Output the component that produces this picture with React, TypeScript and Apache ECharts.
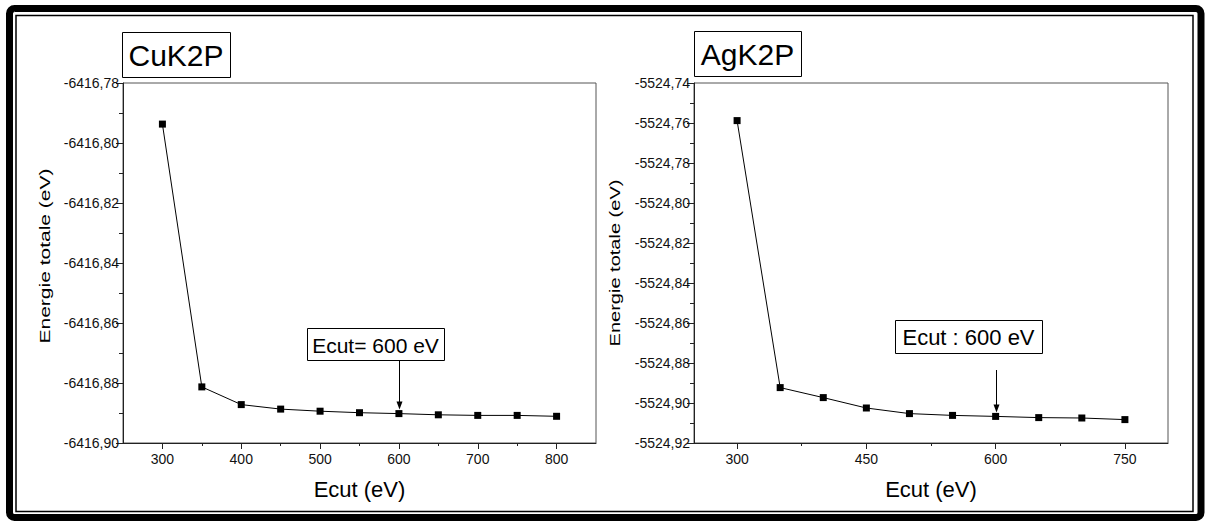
import React, { useEffect, useRef } from "react";
import * as echarts from "echarts";

// ---- Data ----
const cuEcut = [300, 350, 400, 450, 500, 550, 600, 650, 700, 750, 800];
const cuEnergy = [
  -6416.7937, -6416.8813, -6416.8872, -6416.8887, -6416.8894, -6416.8899,
  -6416.8902, -6416.8906, -6416.8908, -6416.8908, -6416.8911,
];
const agEcut = [300, 350, 400, 450, 500, 550, 600, 650, 700, 750];
const agEnergy = [
  -5524.7588, -5524.8923, -5524.8973, -5524.9025, -5524.9053, -5524.9062,
  -5524.9067, -5524.9073, -5524.9075, -5524.9083,
];

const cuXMajor = [300, 400, 500, 600, 700, 800];
const cuXMinor = [350, 450, 550, 650, 750];
const agXMajor = [300, 450, 600, 750];
const agXMinor = [375, 525, 675];

const cuTitle = "CuK2P";
const agTitle = "AgK2P";
const cuNote = "Ecut= 600 eV";
const agNote = "Ecut : 600 eV";
const chosenEcut = 600;
const xName = "Ecut (eV)";
const yName = "Energie totale (eV)";

const FONT = "'Liberation Sans', Arial, sans-serif";
const fmtY = (v: number) => v.toFixed(2).replace(".", ",");

function majorX(gridIndex: number, min: number, max: number, ticks: number[]) {
  return {
    type: "value",
    gridIndex,
    min,
    max,
    name: xName,
    nameLocation: "middle",
    nameGap: 35,
    nameTextStyle: { fontFamily: FONT, fontSize: 22, color: "#000" },
    splitLine: { show: false },
    axisLine: { show: true, onZero: false, lineStyle: { color: "#222", width: 1 } },
    axisTick: { show: true, inside: false, length: 6, customValues: ticks, lineStyle: { color: "#222" } },
    axisLabel: { customValues: ticks, fontFamily: FONT, fontSize: 14, color: "#111", margin: 9 },
  };
}
function minorX(gridIndex: number, min: number, max: number, ticks: number[]) {
  return {
    type: "value",
    gridIndex,
    min,
    max,
    position: "bottom",
    splitLine: { show: false },
    axisLine: { show: false, onZero: false },
    axisTick: { show: true, inside: false, length: 3, customValues: ticks, lineStyle: { color: "#222" } },
    axisLabel: { show: false, customValues: ticks },
  };
}
function yAxisDef(gridIndex: number, min: number, max: number) {
  return {
    type: "value",
    gridIndex,
    min,
    max,
    interval: 0.02,
    splitLine: { show: false },
    axisLine: { show: true, onZero: false, lineStyle: { color: "#222", width: 1 } },
    axisTick: { show: true, inside: false, length: 7, lineStyle: { color: "#222" } },
    minorTick: { show: true, splitNumber: 2, length: 4, lineStyle: { color: "#222" } },
    minorSplitLine: { show: false },
    axisLabel: { formatter: fmtY, fontFamily: FONT, fontSize: 14, color: "#111", margin: 4 },
  };
}

function seriesDef(xIdx: number, yIdx: number, xs: number[], ys: number[]) {
  return {
    type: "line",
    xAxisIndex: xIdx,
    yAxisIndex: yIdx,
    data: xs.map((x, i) => [x, ys[i]]),
    symbol: "rect",
    symbolSize: 7,
    showSymbol: true,
    lineStyle: { color: "#000", width: 1 },
    itemStyle: { color: "#000" },
    emphasis: { disabled: true },
  };
}

function boxedText(x: number, y: number, w: number, h: number, text: string, size: number) {
  return {
    type: "group",
    children: [
      {
        type: "rect",
        shape: { x: x + 0.5, y: y + 0.5, width: w, height: h },
        style: { fill: "#fff", stroke: "#000", lineWidth: 1 },
      },
      {
        type: "text",
        x: x + w / 2,
        y: y + h / 2 + 1,
        style: {
          text,
          fontFamily: FONT,
          fontSize: size,
          fill: "#000",
          align: "center",
          verticalAlign: "middle",
        },
      },
    ],
  };
}

function yTitle(cx: number, cy: number, stretch: number) {
  return {
    type: "text",
    x: cx,
    y: cy,
    rotation: Math.PI / 2,
    scaleX: stretch,
    style: {
      text: yName,
      fontFamily: FONT,
      fontSize: 14,
      fill: "#000",
      align: "center",
      verticalAlign: "middle",
    },
  };
}

function arrow(px: number, y0: number, y1: number) {
  return [
    {
      type: "line",
      shape: { x1: px, y1: y0, x2: px, y2: y1 - 6 },
      style: { stroke: "#000", lineWidth: 1 },
    },
    {
      type: "polygon",
      shape: { points: [[px - 3, y1 - 8], [px + 3, y1 - 8], [px, y1]] },
      style: { fill: "#000" },
    },
  ];
}

export default function App() {
  const ref = useRef<HTMLDivElement>(null);
  useEffect(() => {
    if (!ref.current) return;
    const chart = echarts.init(ref.current, null, { renderer: "svg" });
    const option: any = {
      animation: false,
      backgroundColor: "#fff",
      grid: [
        { left: 123, top: 83, width: 473, height: 360, show: true, borderColor: "#555", borderWidth: 1 },
        { left: 694, top: 83, width: 474, height: 360, show: true, borderColor: "#555", borderWidth: 1 },
      ],
      xAxis: [
        majorX(0, 250, 850, cuXMajor),
        minorX(0, 250, 850, cuXMinor),
        majorX(1, 250, 800, agXMajor),
        minorX(1, 250, 800, agXMinor),
      ],
      yAxis: [yAxisDef(0, -6416.9, -6416.78), yAxisDef(1, -5524.92, -5524.74)],
      series: [
        seriesDef(0, 0, cuEcut, cuEnergy),
        seriesDef(2, 1, agEcut, agEnergy),
      ],
    };
    chart.setOption(option);

    const cuIdx = cuEcut.indexOf(chosenEcut);
    const agIdx = agEcut.indexOf(chosenEcut);
    const pCu = chart.convertToPixel({ xAxisIndex: 0, yAxisIndex: 0 }, [chosenEcut, cuEnergy[cuIdx]]) as number[];
    const pAg = chart.convertToPixel({ xAxisIndex: 2, yAxisIndex: 1 }, [chosenEcut, agEnergy[agIdx]]) as number[];

    chart.setOption({
      graphic: [
        {
          type: "rect",
          shape: { x: 9.5, y: 8.5, width: 1191.5, height: 509, r: 5 },
          style: { fill: "none", stroke: "#000", lineWidth: 7 },
          z: 100,
        },
        {
          type: "rect",
          shape: { x: 16, y: 15.5, width: 1177, height: 496 },
          style: { fill: "none", stroke: "#000", lineWidth: 1.5 },
          z: 100,
        },
        boxedText(122, 32, 108, 45, cuTitle, 30),
        boxedText(694, 31, 107, 45, agTitle, 30),
        boxedText(307, 328, 137, 32, cuNote, 21),
        boxedText(895, 320, 147, 33, agNote, 22),
        yTitle(45, 256, 1.5),
        yTitle(615, 263, 1.43),
        ...arrow(Math.round(pCu[0]) + 0.5, 361, pCu[1] - 4),
        ...arrow(Math.round(pAg[0]) + 0.5, 370, pAg[1] - 4),
      ],
    });
    return () => chart.dispose();
  }, []);
  return (
    <div
      ref={ref}
      style={{ position: "fixed", left: 0, top: 0, width: 1209, height: 522, background: "#fff" }}
    />
  );
}
